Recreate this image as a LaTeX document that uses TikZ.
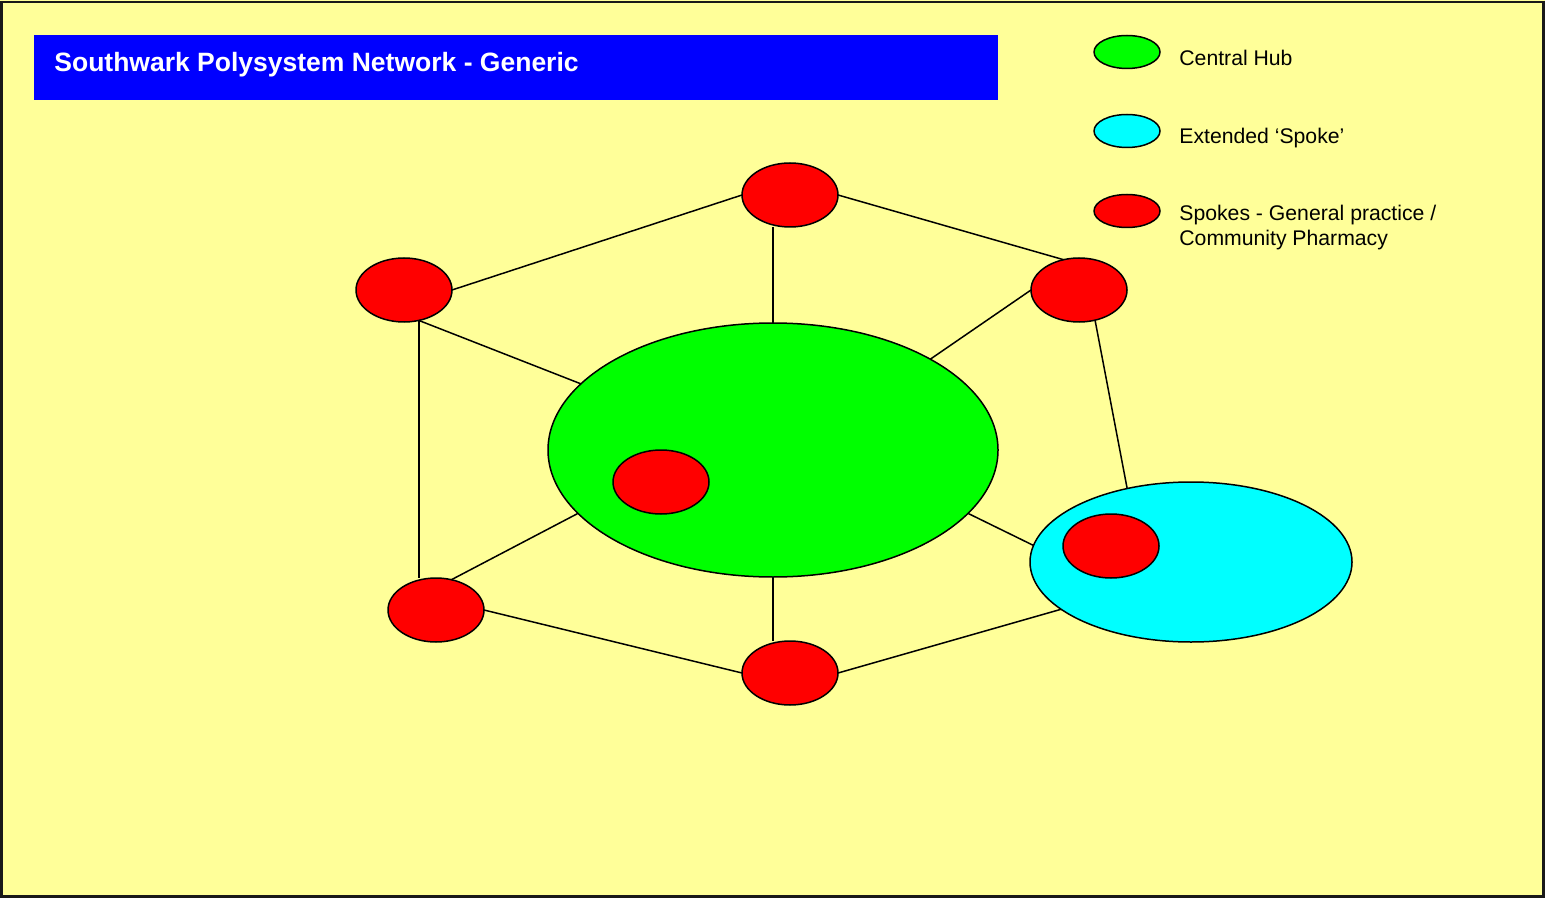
\documentclass[tikz,border=0pt]{standalone}
\usepackage{fontspec}
\setmainfont{Liberation Sans}
\usetikzlibrary{shapes.geometric}
\definecolor{bgyellow}{HTML}{FFFF99}
\definecolor{hubgreen}{HTML}{00FF00}
\definecolor{spokecyan}{HTML}{00FFFF}
\definecolor{spokered}{HTML}{FF0000}
\definecolor{titleblue}{HTML}{0000FF}
\tikzset{
  oval/.style={ellipse, draw=black, line width=0.75pt, inner sep=0pt, outer sep=0pt},
  spokenode/.style={oval, fill=spokered, minimum width=48pt, minimum height=32pt},
  hubnode/.style={oval, fill=hubgreen, minimum width=225pt, minimum height=127pt},
  extnode/.style={oval, fill=spokecyan, minimum width=161pt, minimum height=80pt},
  legoval/.style={oval, minimum width=33pt, minimum height=16.5pt},
  link/.style={draw=black, line width=0.75pt},
  legtext/.style={anchor=base west, inner sep=0pt, font=\fontsize{10.6}{12.8}\selectfont},
}
\begin{document}
\begin{tikzpicture}[x=0.5pt,y=-0.5pt]
\useasboundingbox (0,0) rectangle (1545,898);
\fill[bgyellow] (0,0) rectangle (1545,898);
\draw[black!90, line width=1.4pt] (1.5,2) rectangle (1543.5,896.5);

% title
\node[fill=titleblue, anchor=north west, minimum width=482pt, minimum height=32.25pt, inner sep=0pt] (titlebox) at (34,35) {};
\node[anchor=base west, inner sep=0pt, text=white, font=\bfseries\fontsize{13.25}{16}\selectfont] (title) at (54,72) {Southwark Polysystem Network - Generic};

% legend
\node[legoval, fill=hubgreen] (lg1) at (1127,52) {};
\node[legtext] (lt1) at (1179,66) {Central Hub};
\node[legoval, fill=spokecyan] (lg2) at (1127,131) {};
\node[legtext] (lt2) at (1179,143.5) {Extended ‘Spoke’};
\node[legoval, fill=spokered] (lg3) at (1127,211) {};
\node[legtext] (lt3) at (1179,220.5) {Spokes - General practice /};
\node[legtext] (lt4) at (1179,246) {Community Pharmacy};

% main nodes
\node[hubnode] (H) at (773,450) {};
\node[extnode] (C) at (1191,562) {};
\node[spokenode] (T) at (790,195) {};
\node[spokenode] (UL) at (404,290) {};
\node[spokenode] (UR) at (1079,290) {};
\node[spokenode] (LL) at (436,610) {};
\node[spokenode] (B) at (790,673) {};
\node[spokenode] (HI) at (661,482) {};
\node[spokenode] (CI) at (1111,546) {};

% connectors
\path[link] (T.west) -- (UL.east);
\path[link] (T.east) -- (UR.117);
\path[link] (H.north |- T.south) -- (H.north);
\path[link] (UL.-64) -- (H.161.7);
\path[link] (UL.-64) -- (UL.-64 |- LL.north);
\path[link] (UR.west) -- (H.30.4);
\path[link] (UR.-62.4) -- (C.131);
\path[link] (H.198.9) -- (LL.63.4);
\path[link] (H.south) -- (H.south |- B.north);
\path[link] (H.-18.3) -- (C.174.2);
\path[link] (LL.east) -- (B.west);
\path[link] (B.east) -- (C.200.4);
\end{tikzpicture}
\end{document}
